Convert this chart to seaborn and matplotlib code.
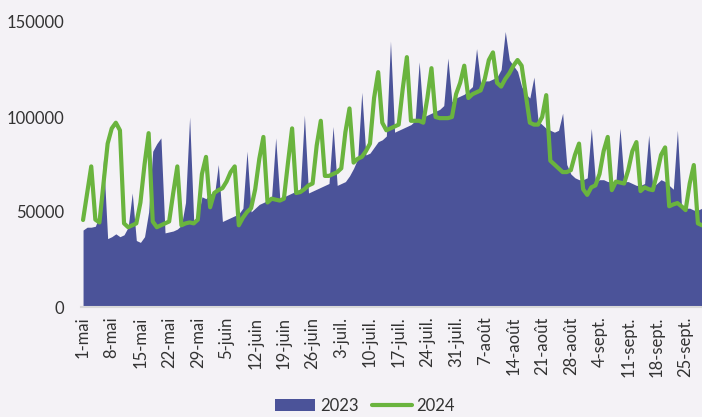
""" Daily visitors, May to September: 2023 vs 2024 """

import numpy as np
import pandas as pd
import matplotlib
matplotlib.use('Agg')
import matplotlib.pyplot as plt
import seaborn as sns

# Daily values, 1 May -> 30 Sept
values_2023 = [
    40500, 42000, 42000, 42500, 48000, 78000, 36000,
    37000, 38500, 37000, 38000, 42000, 60000, 35000,
    34000, 37000, 50000, 82000, 86000, 89000, 39000,
    39500, 40000, 41000, 43000, 55000, 100000, 45000,
    47000, 58000, 57000, 60000, 58000, 75000, 45000,
    46000, 47000, 48000, 49000, 52000, 82000, 50000,
    52000, 54000, 55000, 56000, 58000, 89000, 57000,
    58000, 59000, 60000, 61000, 62000, 101000, 60000,
    61000, 62000, 63000, 64000, 65000, 95000, 64000,
    65000, 66000, 69000, 73000, 78000, 113000, 80000,
    81000, 84000, 87000, 88000, 90000, 140000, 92000,
    93000, 94000, 95000, 96000, 98000, 129000, 100000,
    101000, 102000, 103000, 104000, 106000, 131000, 108000,
    110000, 111000, 112000, 114000, 116000, 136000, 118000,
    119000, 119000, 120000, 121000, 125000, 145000, 130000,
    127000, 124000, 116000, 112000, 110000, 121000, 98000,
    96000, 94000, 93000, 92000, 93000, 102000, 75000,
    70000, 68000, 67000, 67000, 68000, 94000, 66000,
    67000, 67000, 66000, 66000, 66000, 94000, 66000,
    66000, 65000, 64000, 64000, 65000, 90500, 63000,
    65000, 67000, 66000, 64000, 62000, 93000, 53000,
    52000, 52000, 51000, 51000, 52000, 85000,
]

values_2024 = [
    45800, 60000, 74000, 46000, 44500, 65000, 86000,
    94000, 97000, 93000, 44000, 42000, 43000, 44000,
    55000, 75000, 91500, 45000, 42000, 43000, 44000,
    45000, 60000, 74000, 43000, 44000, 44500, 44000,
    46000, 70000, 79000, 52500, 60000, 61500, 62500,
    66000, 71000, 74000, 43000, 47000, 50000, 52000,
    62000, 78000, 89500, 55000, 57000, 56500, 56000,
    57000, 76000, 94000, 60000, 60500, 62000, 64000,
    65000, 85000, 98000, 69000, 69000, 70000, 71000,
    73000, 92000, 104500, 76000, 78000, 79000, 82000,
    86000, 110000, 123600, 97000, 93000, 94000, 95000,
    96000, 115000, 131500, 98000, 98000, 98000, 97000,
    110000, 125700, 100000, 99400, 99400, 99400, 100000,
    112000, 118000, 127000, 110000, 112000, 113000, 114000,
    120000, 130000, 134000, 118000, 116000, 120000, 123000,
    127000, 130000, 127000, 112000, 97000, 96000, 96000,
    100000, 111500, 77000, 75000, 73000, 71000, 71000,
    72000, 80000, 86000, 62000, 59000, 63000, 64000,
    70000, 82000, 89500, 61500, 66000, 65500, 65000,
    72000, 82000, 86800, 61000, 63000, 62000, 61500,
    70000, 80000, 84000, 53000, 54000, 54700, 53000,
    51000, 65000, 74700, 44000, 43000, 43000,
]

tick_labels = ['1-mai', '8-mai', '15-mai', '22-mai', '29-mai', '5-juin',
               '12-juin', '19-juin', '26-juin', '3-juil.', '10-juil.',
               '17-juil.', '24-juil.', '31-juil.', '7-août', '14-août',
               '21-août', '28-août', '4-sept.', '11-sept.', '18-sept.',
               '25-sept.']

y_ticks = [0, 50000, 100000, 150000]

df = pd.DataFrame({'day': np.arange(len(values_2023)),
                   '2023': values_2023,
                   '2024': values_2024})

bg = '#f4f2f6'
blue = '#4b5399'
green = '#6ab43e'
text_col = '#333333'

sns.set_theme(style='white')
plt.rcParams['font.family'] = ['Lato', 'DejaVu Sans']

fig = plt.figure(figsize=(7.02, 4.17), dpi=100, facecolor=bg)
ax = fig.add_axes([81 / 702, 1 - 307 / 417, 1 - 81 / 702, (307 - 22) / 417])
ax.set_facecolor(bg)

# 2023 as filled area, 2024 as line
ax.fill_between(df['day'], df['2023'], color=blue, lw=0, label='2023')
sns.lineplot(data=df, x='day', y='2024', color=green, lw=3, ax=ax, label='2024')

ax.set_xlim(-0.5, 151)
ax.set_ylim(0, 150000)
ax.set_yticks(y_ticks)
ax.set_yticklabels([str(v) for v in y_ticks])
ax.set_xticks(np.arange(0, 7 * len(tick_labels), 7))
ax.set_xticklabels(tick_labels, rotation=90)
ax.set_xlabel('')
ax.set_ylabel('')

for side in ['top', 'right', 'left']:
    ax.spines[side].set_visible(False)
ax.spines['bottom'].set_color('#d9d9d9')
ax.spines['bottom'].set_linewidth(1.5)

ax.tick_params(axis='x', length=0, pad=7, labelsize=12, colors=text_col)
ax.tick_params(axis='y', length=0, pad=12, labelsize=12, colors=text_col)

handles, labels = ax.get_legend_handles_labels()
ax.get_legend().remove()
fig.legend(handles, labels, loc='center', bbox_to_anchor=(365 / 702, 1 - 406 / 417),
           ncol=2, frameon=False, fontsize=12, handlelength=2.4,
           handletextpad=0.3, columnspacing=0.8, labelcolor=text_col,
           borderpad=0.1)

fig.savefig('out.png', dpi=100, facecolor=bg)
